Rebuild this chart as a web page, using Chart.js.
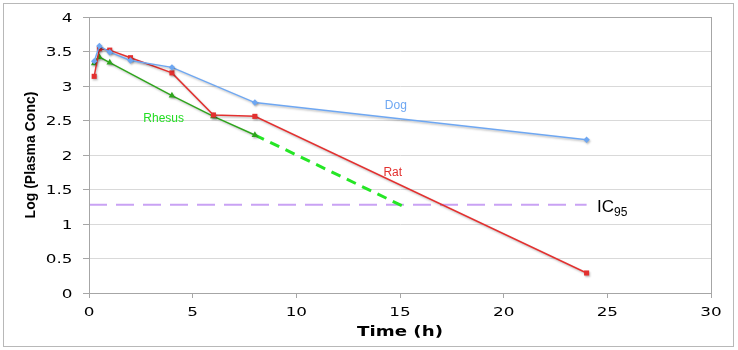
<!DOCTYPE html>
<html>
<head>
<meta charset="utf-8">
<script src="https://cdn.jsdelivr.net/npm/chart.js@4.4.1/dist/chart.umd.min.js"></script>
<style>
  html, body { margin: 0; padding: 0; background: #ffffff; }
  #wrap { width: 738px; height: 350px; position: relative; }
</style>
</head>
<body>
<div id="wrap"><canvas id="c" width="738" height="350"></canvas></div>
<script>
// ---- data ----
const dogTime   = [0.25, 0.5, 1, 2, 4, 8, 24];
const dogConc   = [3.36, 3.58, 3.49, 3.37, 3.27, 2.76, 2.22];

const ratTime   = [0.25, 0.5, 1, 2, 4, 6, 8, 24];
const ratConc   = [3.14, 3.54, 3.52, 3.41, 3.19, 2.58, 2.56, 0.29];

const rhesusTime = [0.25, 0.5, 1, 4, 6, 8];
const rhesusConc = [3.33, 3.42, 3.34, 2.86, 2.56, 2.29];

const rhesusExtTime = [8, 15.2];
const rhesusExtConc = [2.29, 1.25];

const ic95Time = [0, 24];
const ic95Conc = [1.28, 1.28];

const xTicks = [0, 5, 10, 15, 20, 25, 30];
const yTicks = [0, 0.5, 1, 1.5, 2, 2.5, 3, 3.5, 4];
const xTickLabels = ['0', '5', '10', '15', '20', '25', '30'];
const yTickLabels = ['0', '0.5', '1', '1.5', '2', '2.5', '3', '3.5', '4'];

const xTitle = 'Time (h)';
const yTitle = 'Log (Plasma Conc)';

const seriesLabels = ['Dog', 'Rat', 'Rhesus'];
const labelX = [14.8, 14.65, 3.6];
const labelY = [2.72, 1.74, 2.53];
const icLabelX = 24.5;
const icLabelY = 1.26;

function pts(xs, ys) { return xs.map((x, i) => ({ x: x, y: ys[i] })); }

const BLUE = '#6ea7f2', RED = '#e3302f', GREEN = '#2ea51c', LIME = '#25e625', PURPLE = '#c9a2f4';
const TICKFONT = '12px "DejaVu Sans", Verdana, sans-serif';
const STRETCH = 1.4;

const shadowPlugin = {
  id: 'shadow',
  beforeDatasetDraw(chart, args) {
    const ctx = chart.ctx;
    ctx.save();
    if (args.index <= 2) {
      ctx.shadowColor = 'rgba(0,0,0,0.25)';
      ctx.shadowBlur = 2;
      ctx.shadowOffsetX = 1;
      ctx.shadowOffsetY = 1.5;
    }
  },
  afterDatasetDraw(chart) { chart.ctx.restore(); }
};

const framePlugin = {
  id: 'frame',
  beforeDraw(chart) {
    const ctx = chart.ctx;
    ctx.save();
    ctx.fillStyle = '#ffffff';
    ctx.fillRect(0, 0, chart.width, chart.height);
    ctx.restore();
  },
  afterDraw(chart) {
    const ctx = chart.ctx, a = chart.chartArea, xs = chart.scales.x, ys = chart.scales.y;
    ctx.save();
    ctx.strokeStyle = '#a6a6a6';
    ctx.lineWidth = 1;
    ctx.strokeRect(Math.round(a.left) + 0.5, Math.round(a.top) + 0.5, Math.round(a.right - a.left), Math.round(a.bottom - a.top));
    ctx.strokeStyle = '#b8b8b8';
    ctx.strokeRect(3.5, 3.5, 730, 343);

    // tick labels (wide rendering like the original)
    ctx.fillStyle = '#000000';
    ctx.font = TICKFONT;
    ctx.textBaseline = 'middle';
    ctx.textAlign = 'center';
    xTicks.forEach((v, i) => {
      ctx.save();
      ctx.translate(xs.getPixelForValue(v), 312.5);
      ctx.scale(STRETCH, 1);
      ctx.fillText(xTickLabels[i], 0, 0);
      ctx.restore();
    });
    ctx.textAlign = 'right';
    yTicks.forEach((v, i) => {
      ctx.save();
      ctx.translate(72.5, ys.getPixelForValue(v) + 1.5);
      ctx.scale(STRETCH, 1);
      ctx.fillText(yTickLabels[i], 0, 0);
      ctx.restore();
    });
    // x axis title
    ctx.textAlign = 'center';
    ctx.font = 'bold 14px "DejaVu Sans", Verdana, sans-serif';
    ctx.save();
    ctx.translate((a.left + a.right) / 2, 332);
    ctx.scale(1.3, 1);
    ctx.fillText(xTitle, 0, 0);
    ctx.restore();
    ctx.restore();
  }
};

const labelPlugin = {
  id: 'labels',
  afterDatasetsDraw(chart) {
    const ctx = chart.ctx, xs = chart.scales.x, ys = chart.scales.y;
    const colors = [BLUE, RED, '#22dd22'];
    ctx.save();
    ctx.textAlign = 'center';
    ctx.textBaseline = 'middle';
    ctx.font = '12px "Liberation Sans", Arial, sans-serif';
    seriesLabels.forEach((t, i) => {
      ctx.fillStyle = colors[i];
      ctx.fillText(t, xs.getPixelForValue(labelX[i]), ys.getPixelForValue(labelY[i]));
    });
    // IC95 with subscript
    const px = xs.getPixelForValue(icLabelX), py = ys.getPixelForValue(icLabelY);
    ctx.textAlign = 'left';
    ctx.textBaseline = 'alphabetic';
    ctx.fillStyle = '#000000';
    ctx.font = '17px "Liberation Sans", Arial, sans-serif';
    ctx.fillText('IC', px, py + 6);
    const w = ctx.measureText('IC').width;
    ctx.font = '12px "Liberation Sans", Arial, sans-serif';
    ctx.fillText('95', px + w, py + 10);
    ctx.restore();
  }
};

new Chart(document.getElementById('c'), {
  type: 'line',
  data: {
    datasets: [
      { label: 'Dog', data: pts(dogTime, dogConc), borderColor: BLUE, backgroundColor: BLUE,
        borderWidth: 1.4, pointStyle: 'rectRot', pointRadius: 3.2, pointBorderWidth: 0, tension: 0 },
      { label: 'Rat', data: pts(ratTime, ratConc), borderColor: RED, backgroundColor: RED,
        borderWidth: 1.5, pointStyle: 'rect', pointRadius: 3.6, pointBorderWidth: 0, tension: 0 },
      { label: 'Rhesus', data: pts(rhesusTime, rhesusConc), borderColor: GREEN, backgroundColor: GREEN,
        borderWidth: 1.5, pointStyle: 'triangle', pointRadius: 3.8, pointBorderWidth: 0, tension: 0 },
      { label: 'Rhesus extrapolated', data: pts(rhesusExtTime, rhesusExtConc), borderColor: LIME,
        borderWidth: 3, borderDash: [10, 7], pointRadius: 0, tension: 0 },
      { label: 'IC95', data: pts(ic95Time, ic95Conc), borderColor: PURPLE,
        borderWidth: 2, borderDash: [18, 9], pointRadius: 0, tension: 0 }
    ]
  },
  options: {
    responsive: false,
    animation: false,
    layout: { padding: { left: 0, right: 27, top: 17, bottom: 0 } },
    plugins: { legend: { display: false }, tooltip: { enabled: false } },
    scales: {
      x: {
        type: 'linear', min: 0, max: 30,
        afterFit(s) { s.height = 57; },
        afterBuildTicks(s) { s.ticks = xTicks.map(v => ({ value: v })); },
        grid: { display: true, drawOnChartArea: false, drawTicks: true, tickLength: 5, color: '#a6a6a6' },
        border: { display: true, color: '#a6a6a6' },
        ticks: { display: false },
        title: { display: false }
      },
      y: {
        type: 'linear', min: 0, max: 4,
        afterFit(s) { s.width = 89; },
        afterBuildTicks(s) { s.ticks = yTicks.map(v => ({ value: v })); },
        grid: { color: '#d9d9d9', tickColor: '#a6a6a6', tickLength: 6, drawTicks: true },
        border: { display: true, color: '#a6a6a6' },
        ticks: { display: false },
        title: { display: true, text: yTitle, color: '#000', padding: 23,
                 font: { family: '"Liberation Sans", Arial, sans-serif', size: 14, weight: 'bold' } }
      }
    }
  },
  plugins: [framePlugin, shadowPlugin, labelPlugin]
});
</script>
</body>
</html>
